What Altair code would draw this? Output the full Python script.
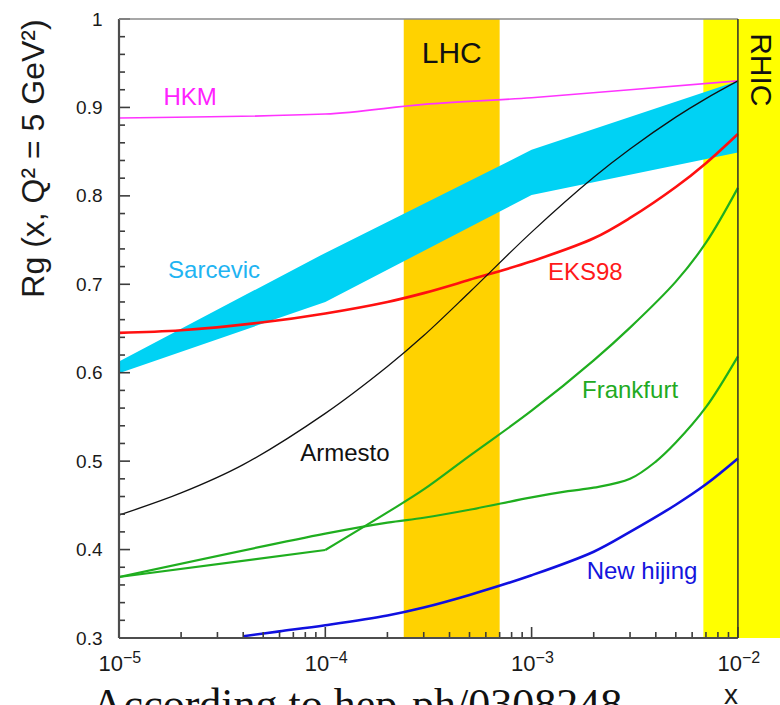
import altair as alt
import pandas as pd

# ---- axis ranges ----------------------------------------------------------
X_MIN, X_MAX = 1e-5, 10 ** -1.796   # plot area runs a little past 1e-2 (RHIC strip)
X_END = 1e-2                         # last labelled decade / right frame
Y_MIN, Y_MAX = 0.3, 1.0
W, H = 661, 619

# ---- model curves: R_g(x, Q^2 = 5 GeV^2) ---------------------------------
hkm_x = [1e-5, 1e-4, 3e-4, 1e-3, 3e-3, 1e-2]
hkm_y = [0.888, 0.8925, 0.9035, 0.911, 0.920, 0.930]

eks_x = [1e-5, 2e-5, 5e-5, 1e-4, 2e-4, 3e-4, 5e-4, 1e-3, 2e-3, 3e-3, 5e-3, 7e-3, 1e-2]
eks_y = [0.645, 0.648, 0.657, 0.667, 0.680, 0.690, 0.705, 0.726, 0.752, 0.775, 0.810, 0.837, 0.870]

arm_x = [1e-5, 2e-5, 4e-5, 1e-4, 2e-4, 3e-4, 5e-4, 1e-3, 2e-3, 3e-3, 5e-3, 7e-3, 1e-2]
arm_y = [0.439, 0.464, 0.496, 0.554, 0.607, 0.642, 0.691, 0.759, 0.821, 0.853, 0.889, 0.910, 0.930]

# Frankfurt (steep branch): straight up to 1e-4, then a smooth rise
fra_lo_x = [1e-5, 1e-4]
fra_lo_y = [0.369, 0.3995]
fra_x = [1e-4, 2e-4, 3e-4, 5e-4, 1e-3, 2e-3, 3e-3, 5e-3, 7e-3, 1e-2]
fra_y = [0.3995, 0.442, 0.468, 0.506, 0.557, 0.614, 0.651, 0.703, 0.747, 0.809]

# Frankfurt (flat branch)
frb_x = [1e-5, 1e-4, 2e-4, 3e-4, 5e-4, 1e-3, 1.5e-3, 2e-3, 3e-3, 4e-3, 5e-3, 7e-3, 1e-2]
frb_y = [0.369, 0.418, 0.4305, 0.436, 0.445, 0.459, 0.466, 0.470, 0.480, 0.4995, 0.521, 0.561, 0.6185]

hij_x = [4e-5, 6e-5, 1e-4, 2e-4, 3e-4, 5e-4, 1e-3, 2e-3, 3e-3, 5e-3, 7e-3, 1e-2]
hij_y = [0.302, 0.3075, 0.3145, 0.3255, 0.3345, 0.3487, 0.371, 0.3976, 0.420, 0.4507, 0.4738, 0.503]

# Sarcevic uncertainty band
sar_x = [1e-5, 1e-4, 1e-3, 1e-2]
sar_lo = [0.5995, 0.680, 0.801, 0.849]
sar_hi = [0.6127, 0.7355, 0.852, 0.930]

# kinematic windows
band_names = ["LHC", "RHIC"]
band_lo = [2.4e-4, 6.8e-3]
band_hi = [7.0e-4, X_MAX]
band_colors = ["#ffd200", "#ffff00"]

# ---- styles ---------------------------------------------------------------
FONT = "Liberation Sans"
TICK = "#3c3c3c"
TICK_W = 1.6
xs = alt.Scale(type="log", domain=[X_MIN, X_MAX], nice=False)
ys = alt.Scale(domain=[Y_MIN, Y_MAX], nice=False, zero=False)

y_major = [0.3, 0.4, 0.5, 0.6, 0.7, 0.8, 0.9, 1.0]
y_minor = [round(m + 0.02 * k, 2) for m in y_major[:-1] for k in (1, 2, 3, 4)]
decades = [1e-5, 1e-4, 1e-3, 1e-2]
exponents = ["\u22125", "\u22124", "\u22123", "\u22122"]
x_minor = [k * d for d in decades[:-1] for k in range(2, 10)]

y_axis = alt.Axis(
    orient="left", values=y_major,
    labelExpr="datum.value >= 1 ? '1' : format(datum.value, '.1f')",
    ticks=False, tickSize=0, domain=False, grid=False,
    labelPadding=17, labelFont=FONT, labelFontSize=19, labelColor="#1a1a1a",
    title="Rg (x, Q\u00b2 = 5 GeV\u00b2)", titleFont=FONT, titleFontSize=32,
    titleFontWeight="normal", titleColor="#1a1a1a", titleAngle=270,
    titleX=-76, titleY=139, titleAlign="center", titleBaseline="alphabetic",
)


def xq(field):
    return alt.X(field, type="quantitative", scale=xs, axis=None)


def yq(field):
    return alt.Y(field, type="quantitative", scale=ys, axis=y_axis)


# ---- layers ---------------------------------------------------------------
bands = pd.DataFrame({"name": band_names, "x1": band_lo, "x2": band_hi})
band_layer = alt.Chart(bands).mark_rect().encode(
    x=xq("x1"), x2="x2",
    y=alt.value(0), y2=alt.value(H),
    color=alt.Color("name:N", scale=alt.Scale(domain=band_names, range=band_colors), legend=None),
)

sar = pd.DataFrame({"x": sar_x, "lo": sar_lo, "hi": sar_hi})
sar_layer = alt.Chart(sar).mark_area(color="#00d2f4", opacity=1, interpolate="linear").encode(
    x=xq("x"), y=yq("lo"), y2="hi"
)


def curve(xv, yv, color, width, interp="catmull-rom"):
    df = pd.DataFrame({"x": xv, "y": yv})
    return alt.Chart(df).mark_line(color=color, strokeWidth=width, interpolate=interp).encode(
        x=xq("x"), y=yq("y")
    )


GREEN = "#1fae1f"
lines = [
    curve(hkm_x, hkm_y, "#ff33ff", 1.6, "monotone"),
    curve(eks_x, eks_y, "#ff1010", 2.6),
    curve(fra_lo_x, fra_lo_y, GREEN, 2.2, "linear"),
    curve(fra_x, fra_y, GREEN, 2.2),
    curve(frb_x, frb_y, GREEN, 2.2),
    curve(hij_x, hij_y, "#1010e0", 2.6),
    curve(arm_x, arm_y, "#111111", 1.3),
]


# inward ticks: the far end of each tick is the data value that lies
# `length` pixels inside the frame on the respective scale
def x_inside(length):
    return X_MIN * (X_MAX / X_MIN) ** (length / W)


def y_inside(length):
    return Y_MIN + (Y_MAX - Y_MIN) * length / H


seg_x, seg_x2, seg_y, seg_y2, seg_c, seg_w = [], [], [], [], [], []


def add_seg(x, x2, y, y2, c, w):
    seg_x.append(x); seg_x2.append(x2); seg_y.append(y); seg_y2.append(y2)
    seg_c.append(c); seg_w.append(w)


for v in y_major:
    add_seg(X_MIN, x_inside(11), v, v, TICK, TICK_W)
for v in y_minor:
    add_seg(X_MIN, x_inside(6), v, v, TICK, TICK_W)
for v in decades:
    add_seg(v, v, Y_MIN, y_inside(11), TICK, TICK_W)
for v in x_minor:
    add_seg(v, v, Y_MIN, y_inside(6), TICK, TICK_W)

# frame: left / bottom axes dark, top light, right line at 1e-2
add_seg(X_MIN, X_MIN, Y_MIN, Y_MAX, "#4d4d4d", 2.2)
add_seg(X_MIN, X_END, Y_MIN, Y_MIN, "#4d4d4d", 2.2)
add_seg(X_MIN, X_END, Y_MAX, Y_MAX, "#8a8a8a", 1.6)
add_seg(X_END, X_END, Y_MIN, Y_MAX, "#3a3a2a", 1.6)

segs = pd.DataFrame({"x": seg_x, "x2": seg_x2, "y": seg_y, "y2": seg_y2, "c": seg_c, "w": seg_w})
frame_layer = alt.Chart(segs).mark_rule(strokeCap="butt").encode(
    x=xq("x"), x2="x2", y=yq("y"), y2="y2",
    color=alt.Color("c:N", scale=None),
    strokeWidth=alt.StrokeWidth("w:Q", scale=None),
)

# x tick labels written as 10 with a raised exponent
xlab = pd.DataFrame({"v": decades, "base": ["10"] * 4, "exp": exponents})
xlab_base = alt.Chart(xlab).mark_text(
    font=FONT, fontSize=22, align="right", baseline="alphabetic", dx=4, color="#1a1a1a"
).encode(x=xq("v"), y=alt.value(652), text="base:N")
xlab_exp = alt.Chart(xlab).mark_text(
    font=FONT, fontSize=16, align="left", baseline="alphabetic", dx=4, color="#1a1a1a"
).encode(x=xq("v"), y=alt.value(644), text="exp:N")

# curve names and window names
lab_text = ["HKM", "Sarcevic", "EKS98", "Armesto", "Frankfurt", "New hijing"]
lab_x = [2.21e-5, 2.89e-5, 1.82e-3, 1.245e-4, 3.0e-3, 3.43e-3]
lab_y = [0.911, 0.715, 0.713, 0.508, 0.579, 0.3747]
lab_c = ["#ff22ff", "#1fb4f2", "#ff1a1a", "#111111", "#22aa22", "#1414dd"]
labels = pd.DataFrame({"x": lab_x, "y": lab_y, "t": lab_text, "c": lab_c})
label_layer = alt.Chart(labels).mark_text(font=FONT, fontSize=24, baseline="middle").encode(
    x=xq("x"), y=yq("y"), text="t:N", color=alt.Color("c:N", scale=None)
)

lhc_label = alt.Chart(pd.DataFrame({"x": [4.1e-4], "y": [0.9606], "t": ["LHC"]})).mark_text(
    font=FONT, fontSize=30, baseline="middle", color="#111111"
).encode(x=xq("x"), y=yq("y"), text="t:N")
rhic_label = alt.Chart(pd.DataFrame({"x": [1.28e-2], "y": [0.9425], "t": ["RHIC"]})).mark_text(
    font=FONT, fontSize=30, baseline="middle", angle=90, color="#111111"
).encode(x=xq("x"), y=yq("y"), text="t:N")

x_title = alt.Chart(pd.DataFrame({"t": ["x"]})).mark_text(
    font=FONT, fontSize=28, baseline="alphabetic", color="#1a1a1a"
).encode(x=alt.value(612), y=alt.value(685), text="t:N")

source_note = alt.Chart(pd.DataFrame({"t": ["According to hep-ph/0308248"]})).mark_text(
    font="Liberation Serif", fontSize=44, baseline="alphabetic", color="#111111"
).encode(x=alt.value(238), y=alt.value(700), text="t:N")

chart = alt.layer(
    band_layer, sar_layer, *lines, frame_layer,
    xlab_base, xlab_exp, label_layer, lhc_label, rhic_label, x_title, source_note,
).properties(
    width=W, height=H,
    autosize=alt.AutoSizeParams(type="none"),
    padding={"left": 119, "top": 19, "right": 0, "bottom": 67},
    background="white",
).configure_view(stroke=None)

chart.save("out.html", embed_options={"renderer": "svg", "actions": False})
